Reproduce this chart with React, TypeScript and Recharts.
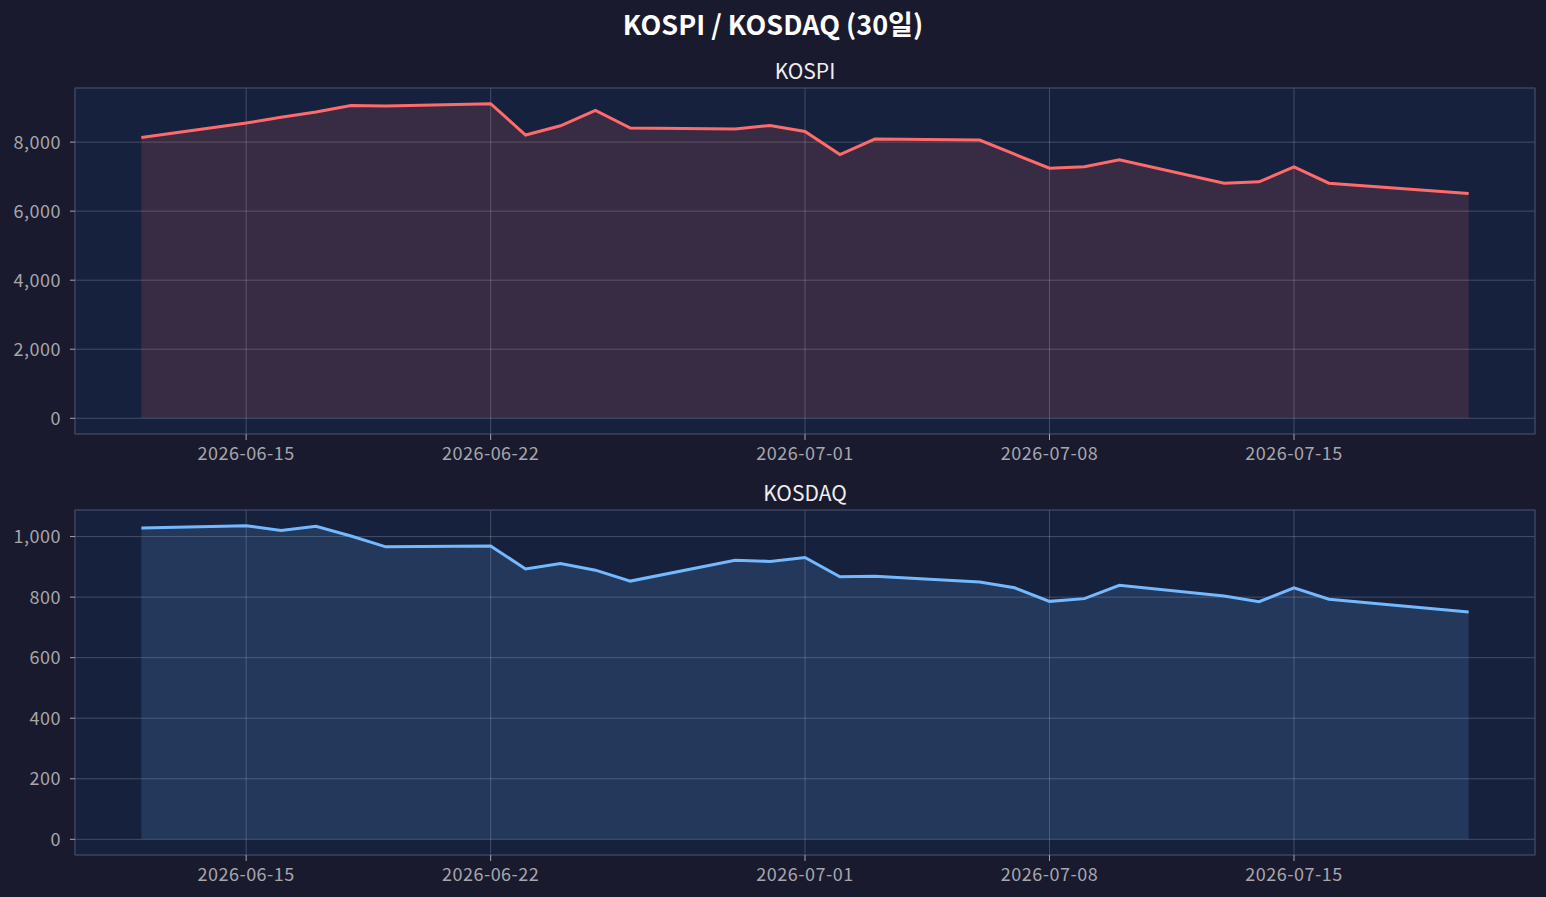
import React from 'react';
import { ComposedChart, Area, XAxis, YAxis, CartesianGrid, ReferenceArea } from 'recharts';

const dates = [
    '2026-06-12', '2026-06-15', '2026-06-16', '2026-06-17', '2026-06-18', '2026-06-19',
    '2026-06-22', '2026-06-23', '2026-06-24', '2026-06-25', '2026-06-26',
    '2026-06-29', '2026-06-30', '2026-07-01', '2026-07-02', '2026-07-03',
    '2026-07-06', '2026-07-07', '2026-07-08', '2026-07-09', '2026-07-10',
    '2026-07-13', '2026-07-14', '2026-07-15', '2026-07-16', '2026-07-20',
];

const kospiValues = [
    8134, 8552, 8720, 8871, 9063, 9045,
    9112, 8204, 8474, 8918, 8407,
    8378, 8483, 8309, 7641, 8088,
    8059, 7650, 7246, 7284, 7487,
    6811, 6849, 7284, 6811, 6509,
];

const kosdaqValues = [
    1028, 1036, 1020, 1034, 1002, 966,
    969, 893, 911, 889, 853,
    922, 918, 931, 867, 869,
    850, 831, 786, 795, 839,
    804, 785, 831, 793, 751,
];

const xTickDates = ['2026-06-15', '2026-06-22', '2026-07-01', '2026-07-08', '2026-07-15'];
const kospiTicks = [0, 2000, 4000, 6000, 8000];
const kosdaqTicks = [0, 200, 400, 600, 800, 1000];

const FONT = '"Noto Sans CJK KR", "Noto Sans", sans-serif';
const BG = '#1a1a2e';
const PLOT_BG = '#16213e';
const SPINE = '#3a3f5e';
const GRID = 'rgba(255,255,255,0.2)';
const TICK = '#a6a6ac';

const toDay = (d: string) => {
    const [y, m, dd] = d.split('-').map(Number);
    return Date.UTC(y, m - 1, dd) / 86400000;
};
const fromDay = (n: number) => new Date(n * 86400000).toISOString().slice(0, 10);

// matplotlib-style 5% margins
const pad = (lo: number, hi: number): [number, number] => {
    const m = (hi - lo) * 0.05;
    return [lo - m, hi + m];
};

const data = dates.map((d, i) => ({ t: toDay(d), kospi: kospiValues[i], kosdaq: kosdaqValues[i] }));
const xDomain = pad(toDay(dates[0]), toDay(dates[dates.length - 1]));
const xTicks = xTickDates.map(toDay);

const tickStyle = { fill: TICK, fontSize: 18, fontFamily: FONT, letterSpacing: 0.5 };

type PanelProps = {
    dataKey: 'kospi' | 'kosdaq';
    values: number[];
    ticks: number[];
    color: string;
    top: number;
    height: number;
    marginTop: number;
};

const Panel: React.FC<PanelProps> = ({ dataKey, values, ticks, color, top, height, marginTop }) => {
    const yDomain = pad(0, Math.max(...values));
    return (
        <div style={{ position: 'absolute', left: 0, top, width: 1546, height }}>
            <ComposedChart width={1546} height={height} data={data} margin={{ top: marginTop, right: 11, left: 0, bottom: 0 }}>
                <CartesianGrid stroke={GRID} fill={PLOT_BG} fillOpacity={1} />
                <XAxis
                    dataKey="t"
                    type="number"
                    domain={xDomain}
                    ticks={xTicks}
                    allowDataOverflow
                    tickFormatter={fromDay}
                    axisLine={false}
                    tickLine={{ stroke: TICK }}
                    tickSize={6}
                    tickMargin={7}
                    height={36}
                    tick={tickStyle}
                />
                <YAxis
                    type="number"
                    domain={yDomain}
                    ticks={ticks}
                    allowDataOverflow
                    tickFormatter={(v: number) => v.toLocaleString('en-US')}
                    axisLine={false}
                    tickLine={{ stroke: TICK }}
                    tickSize={5}
                    tickMargin={9}
                    width={75}
                    tick={tickStyle}
                />
                <Area
                    type="linear"
                    dataKey={dataKey}
                    stroke={color}
                    strokeWidth={3}
                    fill={color}
                    fillOpacity={0.15}
                    baseValue={0}
                    dot={false}
                    activeDot={false}
                    isAnimationActive={false}
                />
                <ReferenceArea
                    x1={xDomain[0]}
                    x2={xDomain[1]}
                    y1={yDomain[0]}
                    y2={yDomain[1]}
                    fill="none"
                    stroke={SPINE}
                    strokeWidth={1.2}
                    ifOverflow="visible"
                />
            </ComposedChart>
        </div>
    );
};

const App: React.FC = () => {
    return (
        <div style={{ position: 'fixed', left: 0, top: 0, width: 1546, height: 897, background: BG, overflow: 'hidden' }}>
            <svg width={1546} height={897} style={{ position: 'absolute', left: 0, top: 0 }}>
                <text x={773} y={35} textAnchor="middle" fill="#ffffff" fontSize={27} fontWeight="bold" fontFamily={FONT}>
                    KOSPI / KOSDAQ (30일)
                </text>
                <text x={805} y={79} textAnchor="middle" fill="#eeeeee" fontSize={21} fontFamily={FONT}>
                    KOSPI
                </text>
                <text x={805} y={501} textAnchor="middle" fill="#eeeeee" fontSize={21} fontFamily={FONT}>
                    KOSDAQ
                </text>
            </svg>
            <Panel dataKey="kospi" values={kospiValues} ticks={kospiTicks} color="#ff6b6b" top={0} height={470} marginTop={88} />
            <Panel dataKey="kosdaq" values={kosdaqValues} ticks={kosdaqTicks} color="#74b9ff" top={470} height={421} marginTop={40} />
        </div>
    );
};

export default App;
